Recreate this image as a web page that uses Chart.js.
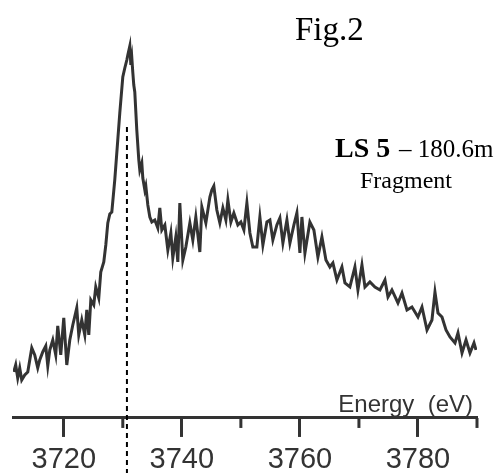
<!DOCTYPE html>
<html>
<head>
<meta charset="utf-8">
<script src="https://cdn.jsdelivr.net/npm/chart.js@4.4.1/dist/chart.umd.min.js"></script>
<style>
  html, body { margin: 0; padding: 0; background: #fff; }
  #wrap { width: 501px; height: 473px; }
</style>
</head>
<body>
<div id="wrap"><canvas id="myChart" width="501" height="473"></canvas></div>
<script>
// spectrum (energy in eV, intensity in arbitrary units)
const energy = [
  3711.53, 3711.86, 3712.20, 3712.54, 3712.88, 3713.39, 3713.90, 3714.58, 3715.08, 3715.59,
  3715.93, 3716.44, 3716.95, 3717.29, 3717.63, 3718.14, 3718.64, 3718.98, 3719.49, 3720.00,
  3720.51, 3721.02, 3721.53, 3722.20, 3722.54, 3723.05, 3723.56, 3723.90, 3724.24, 3724.58,
  3725.08, 3725.42, 3725.93, 3726.27, 3726.78, 3727.12, 3727.46, 3727.80, 3728.14, 3728.64,
  3729.15, 3729.49, 3730.00, 3730.34, 3730.68, 3730.85, 3731.19, 3731.36, 3731.53, 3731.69,
  3731.86, 3732.03, 3732.37, 3732.71, 3732.88, 3733.22, 3733.39, 3733.73, 3733.90, 3734.24,
  3734.58, 3734.92, 3735.42, 3735.93, 3736.27, 3736.61, 3737.12, 3737.63, 3738.14, 3738.47,
  3738.98, 3739.32, 3739.66, 3740.17, 3740.68, 3741.36, 3741.86, 3742.37, 3743.05, 3743.39,
  3744.07, 3744.75, 3745.08, 3745.42, 3745.93, 3746.44, 3746.95, 3747.46, 3747.80, 3748.31,
  3748.81, 3749.49, 3750.00, 3750.51, 3751.02, 3751.53, 3752.03, 3752.71, 3753.22, 3753.73,
  3754.41, 3754.92, 3755.42, 3756.10, 3756.61, 3757.12, 3757.80, 3758.31, 3758.98, 3759.49,
  3760.00, 3760.34, 3760.85, 3761.69, 3762.37, 3763.05, 3763.73, 3764.41, 3765.08, 3765.59,
  3766.27, 3767.12, 3767.63, 3768.47, 3769.32, 3769.83, 3770.51, 3771.02, 3771.86, 3772.71,
  3773.56, 3774.41, 3774.92, 3775.59, 3776.61, 3777.29, 3778.14, 3778.98, 3780.00, 3780.68,
  3781.53, 3782.37, 3782.88, 3783.39, 3784.07, 3784.75, 3785.42, 3786.27, 3786.78, 3787.46,
  3788.14, 3788.81, 3789.49, 3789.83
];
const intensity = [
  0.46, 0.53, 0.40, 0.50, 0.38, 0.43, 0.46, 0.70, 0.63, 0.50,
  0.58, 0.66, 0.72, 0.52, 0.68, 0.78, 0.63, 0.92, 0.63, 1.00,
  0.53, 0.78, 0.93, 1.10, 0.83, 0.98, 0.83, 1.08, 0.83, 1.18,
  1.13, 1.31, 1.20, 1.46, 1.56, 1.73, 1.95, 2.04, 2.06, 2.38,
  2.78, 3.05, 3.41, 3.50, 3.58, 3.63, 3.72, 3.53, 3.60, 3.46,
  3.33, 3.26, 2.88, 2.58, 2.48, 2.55, 2.40, 2.28, 2.32, 2.13,
  2.01, 1.96, 1.98, 1.90, 2.10, 1.88, 1.93, 1.68, 1.85, 1.60,
  1.81, 1.56, 2.15, 1.58, 1.71, 1.95, 1.78, 2.01, 1.66, 2.11,
  1.95, 2.21, 2.28, 2.32, 2.08, 1.95, 2.10, 1.98, 2.18, 1.96,
  2.05, 1.93, 1.96, 1.88, 2.15, 1.85, 1.71, 1.71, 2.01, 1.73,
  1.96, 1.98, 1.78, 1.93, 2.00, 1.75, 1.98, 1.75, 1.93, 2.05,
  1.65, 2.01, 1.65, 1.96, 1.88, 1.61, 1.81, 1.58, 1.51, 1.55,
  1.38, 1.51, 1.35, 1.31, 1.51, 1.28, 1.53, 1.31, 1.36, 1.31,
  1.28, 1.38, 1.21, 1.28, 1.15, 1.25, 1.08, 1.11, 1.01, 1.11,
  0.88, 0.98, 1.26, 1.05, 1.01, 0.88, 0.81, 0.75, 0.85, 0.65,
  0.78, 0.65, 0.75, 0.68
];

const majorTicks = [3720, 3740, 3760, 3780];
const minorTicks = [3730, 3750, 3770, 3790];
const peakEnergy = 3730.7; // dashed marker
const markerTop = 2.91;
const markerBottom = -0.55;

const ink = "#333333";

const points = energy.map((e, i) => ({ x: e, y: intensity[i] }));

// short minor ticks + text labels
const extras = {
  id: "extras",
  afterDraw(chart) {
    const ctx = chart.ctx;
    const xs = chart.scales.x;
    const yAxis = chart.chartArea.bottom;
    ctx.save();
    ctx.strokeStyle = ink;
    ctx.lineWidth = 3;
    minorTicks.forEach((t) => {
      const px = xs.getPixelForValue(t);
      ctx.beginPath();
      ctx.moveTo(px, yAxis);
      ctx.lineTo(px, yAxis + 10);
      ctx.stroke();
    });

    ctx.fillStyle = "#000";
    ctx.textBaseline = "alphabetic";
    ctx.textAlign = "left";
    ctx.font = "33px 'Liberation Serif', 'Times New Roman', serif";
    ctx.fillText("Fig.2", 295, 40);
    ctx.font = "bold 28px 'Liberation Serif', 'Times New Roman', serif";
    ctx.fillText("LS 5", 335, 157);
    ctx.font = "25px 'Liberation Serif', 'Times New Roman', serif";
    ctx.fillText("\u2013 180.6m", 399, 157);
    ctx.font = "24px 'Liberation Serif', 'Times New Roman', serif";
    ctx.fillText("Fragment", 360, 188);

    ctx.fillStyle = ink;
    ctx.textAlign = "right";
    ctx.font = "24px 'Liberation Sans', Arial, sans-serif";
    ctx.fillText("Energy  (eV)", 473, 412);
    ctx.restore();
  },
};

new Chart("myChart", {
  type: "scatter",
  data: {
    datasets: [
      {
        data: points,
        showLine: true,
        borderColor: ink,
        borderWidth: 3,
        pointRadius: 0,
        tension: 0,
      },
      {
        data: [
          { x: peakEnergy, y: markerTop },
          { x: peakEnergy, y: markerBottom },
        ],
        showLine: true,
        borderColor: "#000",
        borderWidth: 2,
        borderDash: [5, 4],
        pointRadius: 0,
        clip: false,
      },
    ],
  },
  options: {
    responsive: false,
    animation: false,
    layout: { padding: { left: 13, right: 24, top: 10, bottom: -10 } },
    plugins: {
      legend: { display: false },
      tooltip: { enabled: false },
    },
    scales: {
      x: {
        type: "linear",
        min: 3711.4,
        max: 3790,
        afterBuildTicks: (axis) => {
          axis.ticks = majorTicks.map((v) => ({ value: v }));
        },
        border: { display: true, color: ink, width: 3 },
        grid: {
          drawOnChartArea: false,
          drawTicks: true,
          tickLength: 19,
          tickWidth: 3,
          tickColor: ink,
        },
        ticks: {
          color: ink,
          padding: 2,
          callback: (v) => String(v),
          font: { family: "'Liberation Sans', Arial, sans-serif", size: 29, lineHeight: 1.45 },
          maxRotation: 0,
        },
      },
      y: {
        display: false,
        min: 0,
        max: 4.08,
      },
    },
  },
  plugins: [extras],
});
</script>
</body>
</html>
